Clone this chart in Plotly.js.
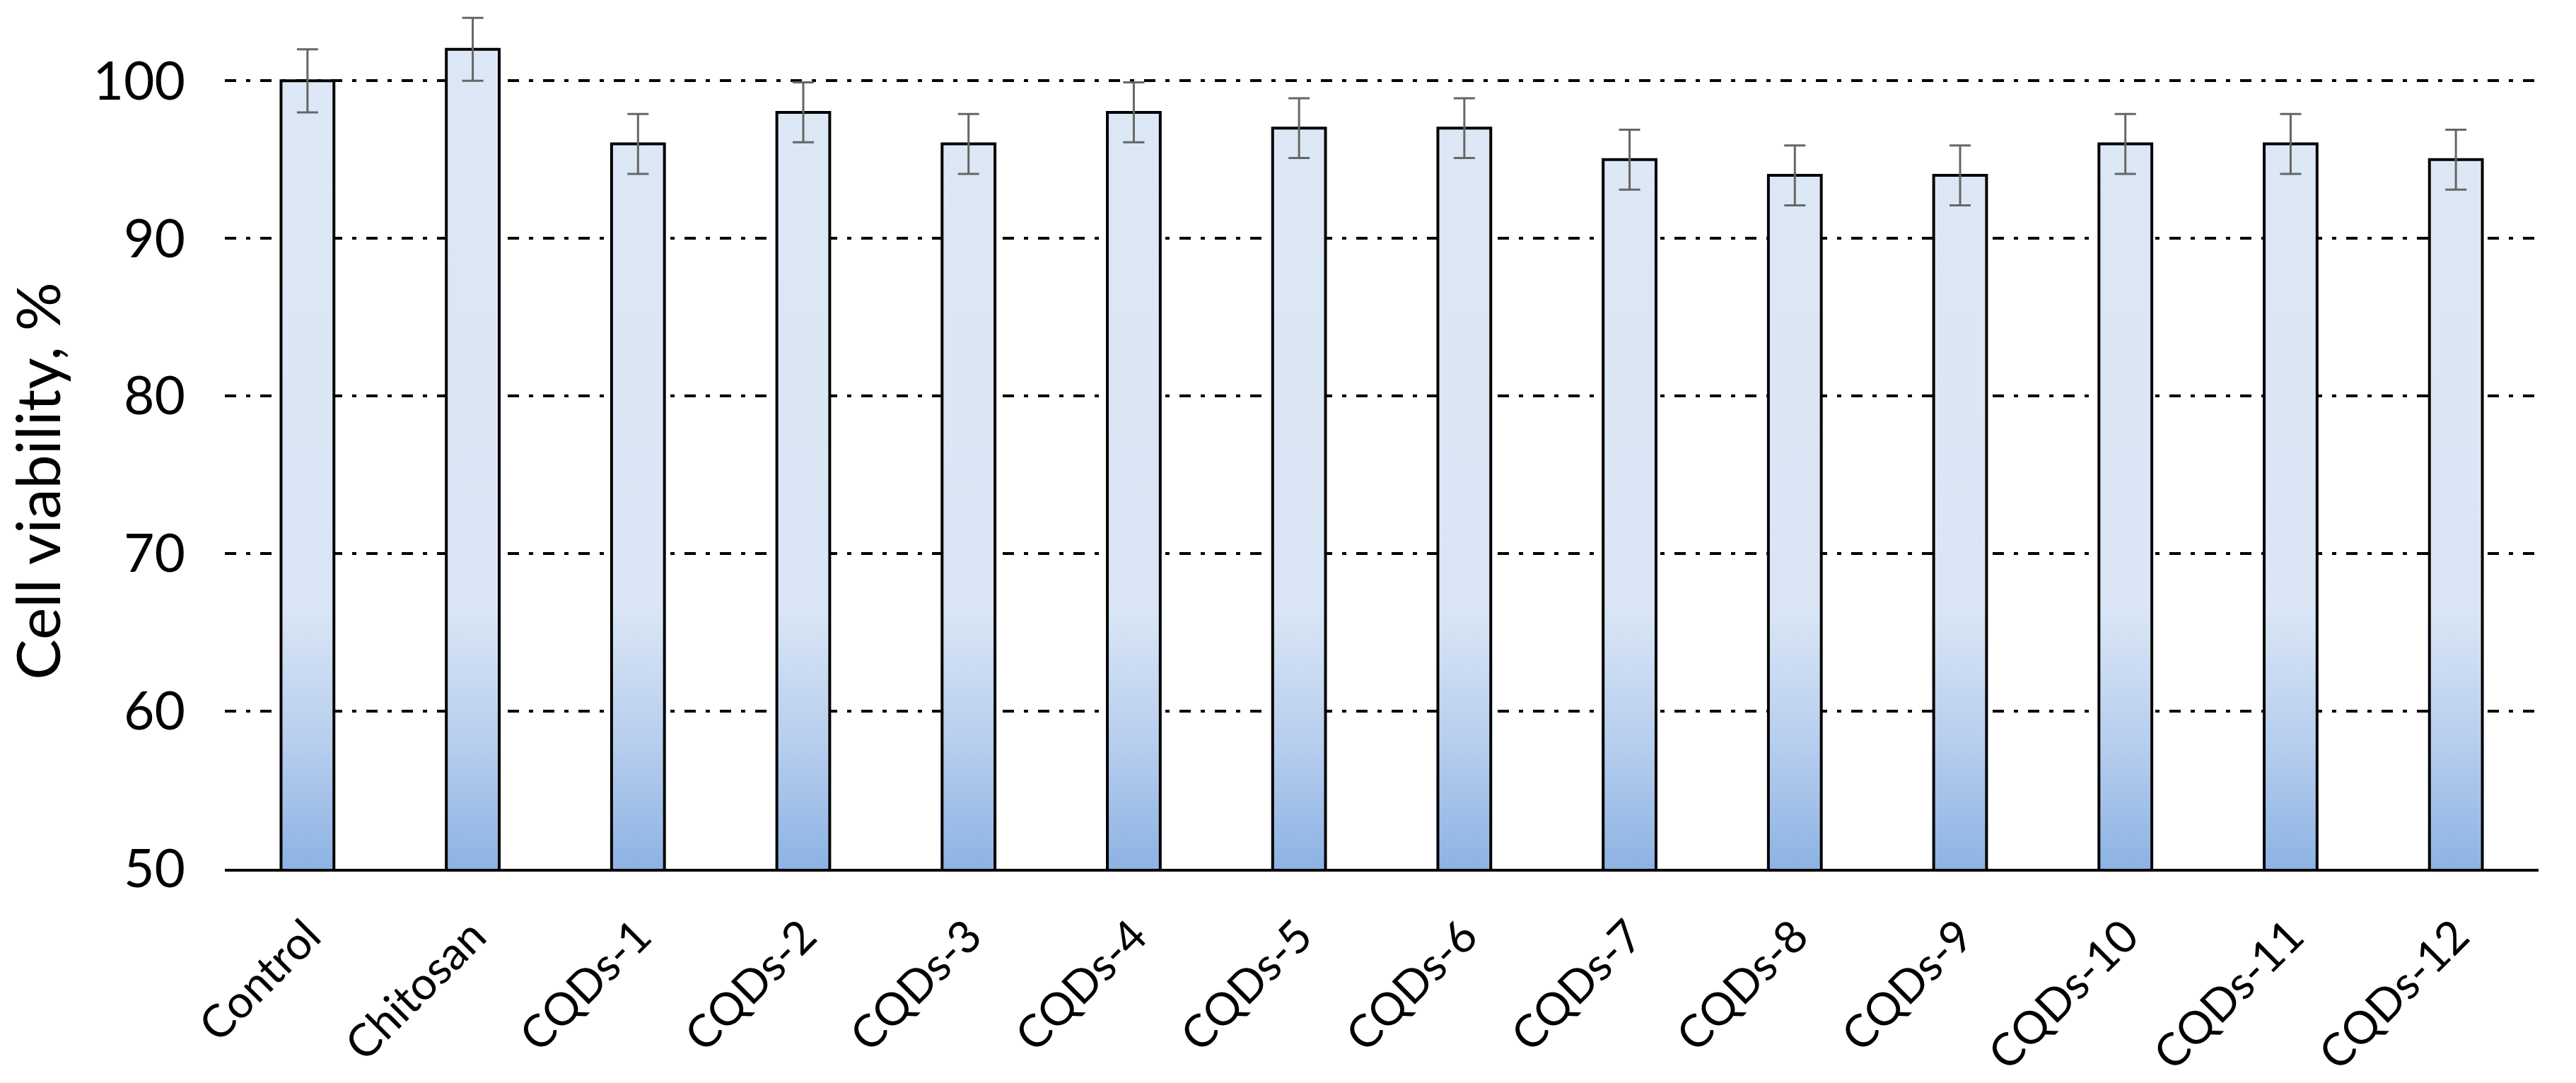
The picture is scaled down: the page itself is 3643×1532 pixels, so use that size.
<!DOCTYPE html>
<html>
<head>
<meta charset="utf-8">
<script src="https://cdn.plot.ly/plotly-3.0.1.min.js"></script>
<style>
  html, body { margin: 0; padding: 0; background: #ffffff; }
  #chart { width: 3643px; height: 1532px; }
</style>
</head>
<body>
<div id="chart"></div>
<script>
// ---- data ----
const categories = ["Control", "Chitosan", "CQDs-1", "CQDs-2", "CQDs-3", "CQDs-4", "CQDs-5",
                    "CQDs-6", "CQDs-7", "CQDs-8", "CQDs-9", "CQDs-10", "CQDs-11", "CQDs-12"];
const viability = [100, 102, 96, 98, 96, 98, 97, 97, 95, 94, 94, 96, 96, 95];
const errors    = [2, 2, 1.9, 1.9, 1.9, 1.9, 1.9, 1.9, 1.9, 1.9, 1.9, 1.9, 1.9, 1.9];
const yTicks    = [50, 60, 70, 80, 90, 100];
const yTitle    = "Cell viability, %";

const FONT = "Lato, 'Open Sans', sans-serif";

const trace = {
  type: "bar",
  x: categories,
  y: viability,
  marker: { color: "#DCE7F5", line: { color: "#000000", width: 4 } },
  error_y: { type: "data", array: errors, visible: true, color: "#666666", thickness: 3, width: 15 },
  hoverinfo: "x+y"
};

const layout = {
  width: 3643,
  height: 1532,
  margin: { l: 318, r: 53, t: 0, b: 303, pad: 0 },
  paper_bgcolor: "#ffffff",
  plot_bgcolor: "#ffffff",
  showlegend: false,
  bargap: 0.68,
  font: { family: FONT, color: "#000000", size: 68 },
  xaxis: {
    type: "category",
    showline: true, linecolor: "#000000", linewidth: 4,
    showgrid: false, zeroline: false,
    tickangle: -45,
    ticks: "outside", ticklen: 28, tickcolor: "rgba(0,0,0,0)",
    tickfont: { family: FONT, size: 64, color: "#000000" }
  },
  yaxis: {
    range: [50, 105.13],
    tickvals: yTicks,
    ticktext: yTicks.map(String),
    showline: false, zeroline: false,
    showgrid: true, gridcolor: "#000000", gridwidth: 4,
    griddash: "16px,14px,6px,14px",
    ticks: "outside", ticklen: 40, tickcolor: "rgba(0,0,0,0)",
    tickfont: { family: FONT, size: 75, color: "#000000" },
    title: { text: yTitle, font: { family: FONT, size: 86, color: "#000000" }, standoff: 18 }
  }
};

Plotly.newPlot("chart", [trace], layout, { displayModeBar: false, staticPlot: true }).then(function (gd) {
  // gradient fill for the bars (light top, darker blue bottom)
  const svgNS = "http://www.w3.org/2000/svg";
  const defs = gd.querySelector("svg.main-svg defs");
  const grad = document.createElementNS(svgNS, "linearGradient");
  grad.setAttribute("id", "barGrad");
  grad.setAttribute("gradientUnits", "userSpaceOnUse");
  grad.setAttribute("x1", "0"); grad.setAttribute("y1", "0");
  grad.setAttribute("x2", "0"); grad.setAttribute("y2", "1229");
  [[0, "#DDE8F6"], [0.7, "#DAE6F5"], [0.86, "#B6CDEE"], [1, "#8DB3E3"]].forEach(function (s) {
    const st = document.createElementNS(svgNS, "stop");
    st.setAttribute("offset", s[0]);
    st.setAttribute("stop-color", s[1]);
    grad.appendChild(st);
  });
  defs.appendChild(grad);
  gd.querySelectorAll(".trace.bars .point path").forEach(function (p) {
    p.style.fill = "url(#barGrad)";
  });
  // shift y title slightly down to match reference placement
  const yt = gd.querySelector(".ytitle");
  if (yt) {
    const tr = yt.getAttribute("transform") || "";
    yt.setAttribute("transform", "translate(0,66) " + tr);
  }
});
</script>
</body>
</html>
